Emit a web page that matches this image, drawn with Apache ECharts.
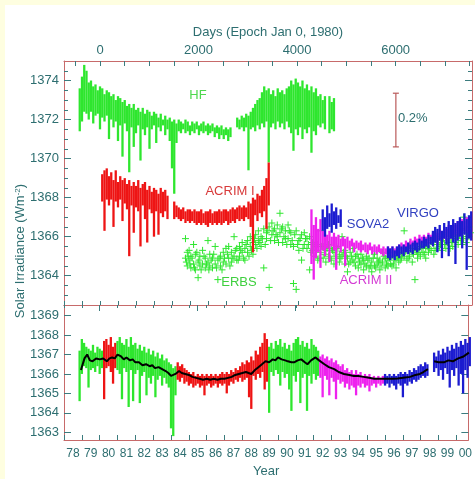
<!DOCTYPE html>
<html><head><meta charset="utf-8">
<script src="https://cdn.jsdelivr.net/npm/echarts@6/dist/echarts.min.js"></script>
<style>html,body{margin:0;padding:0;background:#fefee0;width:475px;height:479px;overflow:hidden}#c{position:absolute;left:5px;top:5px;width:470px;height:474px;background:#fff}</style>
</head><body><div id="c"></div><script>
// ---------- DATA (years, W/m^2); range pairs are [high, low] sampled every 0.125 yr ----------
const STEP = 0.125;
const hfStart = 1978.875;
const hfRange = [
[1373.6,1371.4],[1374.2,1371.9],[1374.8,1372.4],[1374.5,1372.3],[1373.9,1372.0],[1374.0,1372.4],[1373.7,1371.8],[1373.8,1372.2],[1373.5,1372.3],[1373.7,1371.5],
[1373.6,1372.1],[1373.3,1371.9],[1373.5,1372.2],[1373.4,1371.0],[1373.2,1372.0],[1373.3,1371.6],[1373.0,1371.9],[1373.2,1370.9],
[1373.1,1371.7],[1372.9,1370.1],[1373.0,1371.8],[1372.7,1371.4],[1372.8,1369.3],[1372.6,1371.6],[1372.8,1370.6],[1372.5,1371.3],
[1372.6,1371.7],[1372.4,1369.9],[1372.6,1371.5],[1372.3,1371.2],[1372.5,1371.6],[1372.4,1370.5],[1372.2,1371.5],[1372.4,1371.7],
[1372.3,1370.8],[1372.1,1371.6],[1372.3,1371.4],[1372.0,1371.7],[1372.2,1371.2],[1372.0,1371.5],[1372.1,1370.9],[1371.9,1369.5],
[1372.0,1368.2],[1371.8,1370.8],[1372.0,1371.4],[1371.9,1371.3],[1371.8,1371.5],[1372.0,1371.3],[1371.9,1371.4],[1371.7,1371.2],
[1371.9,1371.4],[1371.8,1371.3],[1371.9,1371.5],[1371.7,1371.2],[1371.8,1371.4],[1371.9,1371.3],[1371.7,1371.4],[1371.8,1371.2],
[1371.7,1371.3],[1371.8,1371.4],[1371.6,1371.1],[1371.7,1371.3],[1371.6,1371.0],[1371.7,1371.2],[1371.5,1371.0],[1371.6,1371.2],
[1371.5,1370.9],[1371.6,1371.1],null,null,[1372.1,1371.6],[1372.0,1371.5],[1372.2,1371.6],[1372.1,1371.4],
[1372.3,1371.6],[1372.2,1369.4],[1372.4,1371.5],[1372.6,1371.6],[1372.8,1371.4],[1373.0,1371.7],[1373.1,1371.5],[1373.4,1371.8],
[1373.7,1371.6],[1373.5,1371.9],[1373.6,1369.8],[1373.3,1371.6],[1373.5,1371.8],[1373.2,1371.5],[1373.6,1371.9],[1373.4,1371.6],
[1373.5,1371.8],[1373.3,1371.5],[1373.6,1371.9],[1373.7,1371.6],[1374.0,1371.3],[1373.8,1370.4],[1374.1,1371.5],[1373.9,1371.2],
[1373.7,1371.6],[1374.0,1371.0],[1373.6,1371.5],[1373.8,1371.3],[1373.5,1371.6],[1373.7,1370.3],[1373.4,1371.4],[1373.6,1371.2],
[1373.2,1371.7],[1373.3,1371.6],[1373.0,1371.8],[1373.2,1371.5],null,[1373.2,1371.3],[1372.9,1371.5],[1373.1,1371.4]
];
const acrim1Start = 1980.125;
const acrim1Range = [
[1369.2,1367.8],[1369.4,1366.3],[1369.5,1367.9],[1369.1,1367.6],[1369.3,1367.9],[1368.9,1366.5],[1369.4,1367.8],
[1368.8,1367.5],[1369.1,1367.9],[1368.9,1366.8],[1369.0,1367.7],[1368.7,1367.4],[1368.9,1365.0],[1368.6,1367.6],[1368.8,1366.2],
[1368.6,1367.5],[1368.9,1367.3],[1368.5,1365.5],[1368.7,1367.6],[1368.8,1366.9],[1368.4,1365.7],[1368.6,1367.4],[1368.3,1367.2],
[1368.5,1366.0],[1368.4,1367.3],[1368.2,1366.1],[1368.5,1367.2],[1368.3,1367.0],[1368.4,1367.3],[1368.1,1366.9],null,
null,[1367.8,1366.9],[1367.6,1367.0],[1367.5,1366.9],[1367.4,1366.8],[1367.5,1366.9],[1367.3,1366.7],[1367.4,1366.8],
[1367.4,1366.7],[1367.3,1366.8],[1367.4,1366.7],[1367.3,1366.6],[1367.3,1366.7],[1367.4,1366.6],[1367.2,1366.7],[1367.3,1366.6],
[1367.3,1366.5],[1367.4,1366.7],[1367.2,1366.6],[1367.3,1366.7],[1367.3,1366.6],[1367.4,1366.7],[1367.3,1366.6],[1367.4,1366.7],
[1367.4,1366.8],[1367.3,1366.6],[1367.4,1366.7],[1367.5,1366.8],[1367.4,1366.7],[1367.5,1366.9],[1367.6,1366.8],[1367.5,1366.9],
[1367.6,1366.8],[1367.5,1367.0],[1367.8,1366.9],[1367.7,1366.5],[1368.0,1365.2],[1367.9,1367.1],[1368.2,1366.8],[1368.1,1367.2],
[1368.4,1367.0],[1368.6,1367.3],[1369.0,1366.4],[1369.8,1367.6]
];
const acrim2Start = 1991.75;
const acrim2Range = [
[1367.4,1364.6],[1366.6,1363.8],
[1367.0,1364.9],[1366.4,1365.2],[1366.9,1364.4],[1366.3,1365.3],[1366.5,1365.0],[1366.1,1365.4],[1366.3,1364.7],[1366.0,1365.5],
[1366.2,1365.3],[1366.0,1364.3],[1366.1,1365.4],[1365.9,1365.2],[1366.0,1365.5],[1365.9,1364.5],[1366.0,1365.4],[1365.8,1365.3],
[1365.9,1365.5],[1365.7,1365.2],[1365.8,1365.4],[1365.7,1365.3],[1365.8,1365.2],[1365.6,1365.3],[1365.7,1365.2],[1365.6,1365.1],
[1365.7,1365.3],[1365.5,1365.1],[1365.6,1365.2],[1365.5,1365.1],[1365.6,1365.2],[1365.4,1365.1],[1365.5,1365.0],[1365.4,1365.1],
[1365.5,1365.0],[1365.4,1365.1],[1365.5,1365.0],[1365.4,1365.1],[1365.5,1365.1],[1365.6,1365.2],[1365.7,1365.3],[1365.6,1365.2],
[1365.8,1365.3],[1365.7,1365.4],[1365.9,1365.4],[1365.8,1365.5],[1366.0,1365.5],[1365.9,1365.6],[1366.1,1365.6],[1366.0,1365.7],
[1366.1,1365.6],[1366.0,1365.7],[1366.2,1365.6],[1366.1,1365.8],[1366.2,1365.7],[1366.3,1365.8],[1366.2,1365.6],[1366.4,1365.9],
[1366.3,1365.7],[1366.5,1365.9],[1366.4,1365.8],[1366.6,1366.0],[1366.5,1365.9],[1366.7,1366.0],[1366.6,1366.1],[1366.8,1366.0],
[1366.7,1366.2],[1366.9,1366.1],[1366.8,1366.3],[1367.0,1366.2],[1366.9,1366.3]
];
const sova2Start = 1992.375;
const sova2Range = [[1367.4,1366.3],[1367.0,1366.0],[1367.6,1366.4],[1367.2,1366.5],[1367.7,1366.2],[1367.3,1366.6],[1367.5,1366.4],[1367.1,1366.7],[1367.4,1366.5]];
const virgoStart = 1996.0;
const virgoRange = [
[1365.5,1364.9],[1365.4,1364.8],[1365.5,1364.9],[1365.3,1364.8],[1365.5,1365.0],[1365.6,1364.9],[1365.5,1365.1],[1365.6,1365.0],
[1365.5,1365.2],[1365.7,1365.1],[1365.6,1365.2],[1365.7,1365.1],[1365.8,1365.3],[1365.7,1365.2],[1365.9,1365.3],[1365.8,1365.4],
[1366.0,1365.4],[1365.9,1365.5],[1366.1,1365.4],[1366.0,1365.6],[1366.3,1365.5],[1366.5,1365.7],[1366.4,1365.2],[1366.6,1365.8],
[1366.3,1364.9],[1366.7,1365.9],[1366.5,1365.6],[1366.8,1365.0],[1366.6,1365.9],[1366.9,1365.7],[1366.7,1364.6],[1366.8,1365.8],
[1367.0,1366.0],[1366.8,1365.4],[1367.2,1366.1],[1366.9,1364.3],[1367.1,1365.9],[1367.3,1365.8]
];
const erbsPoints = [
[1984.75,1365.9],[1984.75,1364.9],[1984.85,1365.2],[1984.85,1364.5],[1984.95,1364.8],[1984.95,1365.3],[1985.05,1364.4],[1985.05,1365.0],
[1985.2,1365.6],[1985.2,1364.6],[1985.3,1364.3],[1985.3,1365.1],[1985.45,1364.7],[1985.45,1363.9],[1985.55,1365.0],[1985.55,1364.5],
[1985.7,1364.6],[1985.7,1365.3],[1985.85,1364.4],[1985.85,1364.9],[1986.0,1365.8],[1986.0,1364.7],[1986.1,1364.5],[1986.1,1365.1],
[1986.25,1364.9],[1986.25,1364.4],[1986.4,1365.5],[1986.4,1364.6],[1986.55,1364.8],[1986.55,1363.8],[1986.7,1364.5],[1986.7,1365.0],
[1986.85,1365.2],[1986.85,1364.7],[1987.0,1364.6],[1987.0,1365.4],[1987.15,1364.9],[1987.15,1365.5],[1987.3,1364.7],[1987.3,1365.2],
[1987.45,1365.0],[1987.45,1366.0],[1987.6,1364.8],[1987.6,1365.4],[1987.75,1365.5],[1987.75,1365.0],[1987.9,1365.2],[1987.9,1365.7],
[1988.05,1365.4],[1988.05,1364.8],[1988.2,1365.8],[1988.2,1365.2],[1988.35,1365.5],[1988.35,1366.0],[1988.5,1365.7],[1988.5,1365.1],
[1988.65,1366.1],[1988.65,1365.6],[1988.8,1365.8],[1988.8,1366.3],[1988.95,1366.0],[1988.95,1365.5],[1989.1,1366.4],[1989.1,1364.4],
[1989.25,1365.9],[1989.25,1366.2],[1989.4,1366.5],[1989.4,1363.4],[1989.55,1366.1],[1989.55,1366.7],[1989.7,1365.8],[1989.7,1366.4],
[1989.85,1366.6],[1989.85,1366.0],[1990.0,1366.2],[1990.0,1367.2],[1990.15,1365.7],[1990.15,1366.5],[1990.3,1366.3],[1990.3,1365.9],
[1990.45,1365.9],[1990.45,1366.6],[1990.6,1366.2],[1990.6,1365.6],[1990.75,1365.5],[1990.75,1363.6],[1990.9,1366.3],[1990.9,1363.3],
[1991.05,1365.8],[1991.05,1365.3],[1991.2,1366.1],[1991.2,1364.8],[1991.35,1365.6],[1991.35,1366.2],[1991.5,1365.4],[1991.5,1365.9],
[1991.65,1366.0],[1991.65,1364.3],[1991.8,1365.3],[1991.8,1365.7],[1991.95,1365.0],[1991.95,1365.5],[1992.1,1365.6],[1992.1,1364.8],
[1992.25,1365.2],[1992.25,1366.3],[1992.4,1364.9],[1992.4,1365.5],[1992.55,1365.3],[1992.55,1364.7],[1992.7,1365.0],[1992.7,1365.6],
[1992.85,1364.8],[1992.85,1365.4],[1993.0,1365.2],[1993.0,1364.6],[1993.15,1365.5],[1993.15,1364.9],[1993.3,1364.7],[1993.3,1365.1],
[1993.45,1365.0],[1993.45,1366.0],[1993.6,1364.6],[1993.6,1365.3],[1993.75,1364.9],[1993.75,1364.2],[1993.9,1365.2],[1993.9,1364.7],
[1994.05,1364.8],[1994.05,1365.4],[1994.2,1364.5],[1994.2,1365.0],[1994.35,1364.9],[1994.35,1364.4],[1994.5,1364.6],[1994.5,1365.1],
[1994.65,1364.3],[1994.65,1364.8],[1994.8,1365.0],[1994.8,1364.5],[1994.95,1364.4],[1994.95,1364.9],[1995.1,1364.7],[1995.1,1364.2],
[1995.25,1365.1],[1995.25,1364.5],[1995.4,1364.6],[1995.4,1364.9],[1995.55,1364.3],[1995.55,1364.8],[1995.7,1364.7],[1995.7,1365.2],
[1995.85,1364.4],[1995.85,1364.9],[1996.0,1364.8],[1996.0,1364.5],[1996.15,1365.0],[1996.15,1364.6],[1996.3,1364.6],[1996.3,1365.2],
[1996.45,1364.9],[1996.45,1364.4],[1996.6,1365.2],[1996.6,1364.7],[1996.75,1364.9],[1996.75,1365.4],[1996.9,1366.3],[1996.9,1365.0],
[1997.05,1365.3],[1997.05,1364.8],[1997.2,1365.0],[1997.2,1365.6],[1997.35,1364.7],[1997.35,1365.2],[1997.5,1363.8],[1997.5,1365.4],
[1997.65,1365.1],[1997.65,1364.9],[1997.8,1365.5],[1997.8,1365.0],[1997.95,1365.2],[1997.95,1365.7],[1998.1,1365.4],[1998.1,1364.9],
[1998.25,1365.7],[1998.25,1365.2],[1998.4,1365.3],[1998.4,1365.8],[1998.55,1365.6],[1998.55,1365.1],[1998.7,1365.9],[1998.7,1365.4],
[1998.85,1365.5],[1998.85,1366.0],[1999.0,1365.8],[1999.0,1365.3],[1999.15,1366.1],[1999.15,1365.6],[1999.3,1365.7],[1999.3,1366.2],
[1999.45,1365.4],[1999.45,1365.9],[1999.6,1366.0],[1999.6,1365.5],[1999.75,1365.7],[1999.75,1366.3],[1999.9,1366.1],[1999.9,1365.6],
[2000.05,1365.8],[2000.05,1366.4],[2000.2,1367.0],[2000.2,1365.9],[2000.35,1366.2],[2000.35,1365.7],[2000.5,1366.0],[2000.5,1366.5]
];
const erbsPointsExtra = [
[1984.8,1364.7],[1984.9,1365.0],[1985.0,1364.6],[1985.12,1364.9],[1985.25,1364.4],[1985.38,1365.2],[1985.5,1364.8],[1985.62,1364.3],
[1985.78,1365.0],[1985.92,1364.6],[1986.05,1364.3],[1986.18,1364.8],[1986.32,1365.1],[1986.48,1364.4],[1986.62,1364.9],[1986.78,1364.3],
[1986.92,1364.9],[1987.08,1365.1],[1987.22,1364.5],[1987.38,1364.9],[1987.52,1365.3],[1987.68,1364.8],[1987.82,1365.3],[1987.98,1364.9],
[1988.12,1365.6],[1988.28,1365.0],[1988.42,1365.3],[1988.58,1365.9],[1988.72,1365.4],[1988.88,1365.7],[1989.02,1365.9],[1989.18,1365.6],
[1989.32,1366.3],[1989.48,1365.8],[1989.62,1366.3],[1989.78,1366.1],[1989.92,1365.7],[1990.08,1366.4],[1990.22,1366.0],[1990.38,1365.6],
[1990.52,1366.3],[1990.68,1365.8],[1990.82,1366.1],[1990.98,1365.6],[1991.12,1365.9],[1991.28,1365.4],[1991.42,1365.9],[1991.58,1365.6],
[1991.72,1365.2],[1991.88,1365.6],[1992.02,1365.3],[1992.18,1364.9],[1992.32,1365.5],[1992.48,1365.1],[1992.62,1365.4],[1992.78,1364.9],
[1992.92,1365.3],[1993.08,1365.0],[1993.22,1365.4],[1993.38,1364.9],[1993.52,1365.2],[1993.68,1365.0],[1993.82,1364.6],[1993.98,1365.0],
[1994.12,1364.7],[1994.28,1365.1],[1994.42,1364.7],[1994.58,1364.9],[1994.72,1364.6],[1994.88,1364.8],[1995.02,1364.5],[1995.18,1364.9],
[1995.32,1364.4],[1995.48,1364.7],[1995.62,1364.5],[1995.78,1365.0],[1995.92,1364.6],[1996.08,1364.9],[1996.22,1364.5],[1996.38,1364.8],
[1996.52,1365.0],[1996.68,1364.8],[1996.82,1365.1],[1996.98,1365.3],[1997.12,1364.9],[1997.28,1365.4],[1997.42,1365.1],[1997.58,1365.3],
[1997.72,1365.2],[1997.88,1365.4],[1998.02,1365.1],[1998.18,1365.5],[1998.32,1365.4],[1998.48,1365.9],[1998.62,1365.3],[1998.78,1365.7],
[1998.92,1365.6],[1999.08,1365.9],[1999.22,1365.4],[1999.38,1366.0],[1999.52,1365.7],[1999.68,1366.2],[1999.82,1365.9],[1999.98,1366.1],
[2000.12,1365.6],[2000.28,1366.3],[2000.42,1366.0],[2000.58,1366.2]
];
// composite (bottom panel) pieces, [high, low] every 0.125 yr
const compHF1Start = 1978.875;
const compHF1 = [[1367.2,1364.6],[1367.8,1366.0],[1367.6,1366.4],[1367.4,1366.3],[1367.3,1365.3],[1367.2,1366.2],[1367.5,1366.3],[1367.1,1366.1],[1367.4,1366.4],[1367.3,1366.0],[1367.2,1366.3]];
const compAcrim1Start = 1980.25;
const compAcrim1 = [[1367.7,1364.7],[1367.8,1366.3],[1367.5,1366.4],[1367.9,1366.1],[1367.4,1365.5],[1367.6,1366.3]];
const compHF2Start = 1981.0;
const compHF2 = [
[1367.7,1366.2],[1367.9,1366.0],[1367.6,1364.7],[1367.5,1366.3],[1367.8,1366.1],[1367.4,1364.3],[1367.9,1366.2],[1367.5,1364.6],
[1367.6,1366.0],[1367.3,1366.2],[1367.5,1364.5],[1367.2,1365.9],[1367.4,1366.1],[1367.1,1364.9],[1367.3,1365.8],[1367.0,1365.5],
[1367.2,1365.9],[1366.9,1364.8],[1367.1,1365.7],[1366.8,1365.9],[1367.0,1365.4],[1366.7,1365.8],[1366.8,1365.5],[1366.6,1365.3],
[1366.5,1363.2],[1366.3,1362.8],[1366.4,1364.9]
];
const compAcrim2Start = 1984.375;
const compAcrim2 = [
[1366.6,1365.7],[1366.4,1365.6],[1366.5,1365.8],[1366.3,1365.5],[1366.2,1365.6],
[1366.1,1365.4],[1366.0,1365.5],[1366.1,1365.3],[1365.9,1365.4],[1366.0,1365.5],[1365.9,1365.3],[1366.0,1365.4],[1365.9,1364.9],
[1366.0,1365.4],[1365.9,1365.5],[1366.0,1365.3],[1365.9,1365.4],[1366.0,1365.5],[1365.9,1365.3],[1366.0,1365.5],[1366.1,1365.4],
[1366.0,1365.5],[1366.1,1365.0],[1366.0,1365.4],[1366.2,1365.6],[1366.1,1365.5],[1366.3,1365.7],[1366.2,1365.6],[1366.4,1365.8],
[1366.6,1365.6],[1366.5,1365.7],[1366.7,1365.8],[1366.6,1364.8],[1366.9,1364.2],[1366.7,1365.9],[1367.2,1365.7],[1367.0,1366.0],
[1367.4,1365.8],[1367.6,1366.1],[1368.1,1365.2],[1367.8,1365.6]
];
const compHF3Start = 1989.5;
const compHF3 = [
[1367.4,1364.0],[1367.6,1366.1],[1367.3,1365.9],[1367.7,1366.2],
[1367.5,1366.0],[1367.8,1365.4],[1367.4,1366.1],[1367.6,1365.8],[1367.3,1366.0],[1367.5,1365.2],[1367.2,1364.1],[1367.6,1365.9],
[1367.8,1365.6],[1367.9,1366.1],[1367.5,1364.5],[1367.7,1365.8],[1367.4,1366.0],[1367.6,1364.1],[1367.3,1365.9],[1367.8,1365.5],
[1367.5,1366.0],[1367.4,1365.7],[1367.2,1365.9]
];
const compAcrimIIStart = 1992.375;
const compAcrimII = [
[1366.9,1365.8],[1367.0,1364.8],[1366.8,1365.9],[1366.9,1365.7],[1366.7,1364.9],
[1366.8,1365.8],[1366.6,1365.6],[1366.7,1364.7],[1366.5,1365.7],[1366.4,1365.5],[1366.5,1365.6],[1366.2,1365.3],[1366.3,1365.5],
[1366.1,1365.2],[1366.2,1365.4],[1366.0,1365.3],[1366.2,1364.9],[1366.0,1365.4],[1366.1,1365.3],[1365.9,1365.5],[1366.0,1365.3],
[1365.9,1365.4],[1366.0,1365.1],[1365.8,1365.4],[1365.9,1365.5],[1365.8,1365.3],[1365.9,1365.5],[1365.8,1365.4],[1365.9,1365.5]
];
const compVirgoStart = 1996.0;
const compVirgo = [
[1366.0,1365.4],[1365.9,1365.5],[1366.0,1365.3],[1365.9,1365.5],[1366.0,1365.4],[1365.9,1365.2],[1366.0,1365.5],[1366.1,1365.4],
[1366.0,1364.8],[1366.1,1365.5],[1366.0,1365.4],[1366.2,1365.6],[1366.1,1365.5],[1366.3,1365.7],[1366.2,1365.6],[1366.4,1365.7],
[1366.5,1365.8],[1366.4,1365.9],[1366.6,1365.8],[1366.5,1365.9],null,null,[1367.1,1366.1],[1366.9,1366.3],
[1367.2,1365.9],[1367.0,1366.2],[1367.3,1365.7],[1367.1,1366.3],[1367.4,1366.0],[1367.2,1365.3],[1367.5,1366.2],[1367.3,1365.9],
[1367.6,1366.3],[1367.4,1365.4],[1367.7,1366.0],[1367.5,1365.0],[1367.8,1366.2],[1367.6,1365.8],[1367.9,1366.4]
];
const compositeLine = [
[1978.95,1366.2],[1979.15,1366.8],[1979.3,1367.0],[1979.45,1366.7],[1979.6,1366.65],[1979.8,1366.8],[1980.0,1366.75],[1980.2,1366.8],
[1980.4,1366.65],[1980.55,1366.8],[1980.7,1366.85],[1980.85,1366.8],[1981.0,1367.0],[1981.2,1366.9],[1981.35,1366.75],[1981.5,1366.85],
[1981.7,1366.7],[1981.85,1366.75],[1982.0,1366.6],[1982.2,1366.6],[1982.4,1366.45],[1982.6,1366.5],[1982.8,1366.4],[1982.95,1366.45],
[1983.1,1366.3],[1983.3,1366.35],[1983.5,1366.25],[1983.7,1366.15],[1983.85,1366.05],[1984.0,1365.9],[1984.1,1365.8],[1984.25,1366.0],
[1984.45,1366.15],[1984.6,1366.05],[1984.8,1366.0],[1985.0,1365.95],[1985.2,1365.85],[1985.4,1365.8],[1985.6,1365.75],[1985.8,1365.7],
[1986.0,1365.75],[1986.2,1365.7],[1986.4,1365.75],[1986.6,1365.7],[1986.8,1365.75],[1987.0,1365.75],[1987.2,1365.8],[1987.4,1365.85],
[1987.6,1365.95],[1987.8,1366.0],[1988.0,1366.05],[1988.2,1366.1],[1988.35,1366.05],[1988.5,1366.0],[1988.7,1366.2],[1988.9,1366.35],
[1989.1,1366.5],[1989.3,1366.65],[1989.5,1366.6],[1989.7,1366.75],[1989.85,1366.7],[1990.0,1366.85],[1990.2,1366.75],[1990.4,1366.7],
[1990.55,1366.65],[1990.75,1366.6],[1990.9,1366.6],[1991.1,1366.7],[1991.3,1366.75],[1991.5,1366.6],[1991.65,1366.5],[1991.85,1366.7],
[1992.1,1366.85],[1992.3,1366.7],[1992.6,1366.5],[1992.85,1366.35],[1993.15,1366.25],[1993.4,1366.1],[1993.7,1366.0],[1994.0,1365.95],
[1994.25,1365.9],[1994.5,1365.9],[1994.8,1365.85],[1995.1,1365.8],[1995.4,1365.75],[1995.7,1365.75],[1996.0,1365.75],[1996.4,1365.75],
[1996.7,1365.77],[1997.0,1365.8],[1997.4,1365.85],[1997.7,1365.95],[1997.95,1366.0],[1998.15,1366.1],[1998.4,1366.25],[1998.55,null],
[1998.75,1366.65],[1999.0,1366.6],[1999.3,1366.6],[1999.55,1366.7],[1999.8,1366.65],[2000.1,1366.8],[2000.4,1366.9],[2000.7,1367.1]
];
const scaleBar = [[1996.44, 1370.6, 1373.35]]; // 0.2% of TSI
const topMajor = [1364,1366,1368,1370,1372,1374];
const topMinor = [1363,1363.5,1364.5,1365,1365.5,1366.5,1367,1367.5,1368.5,1369,1369.5,1370.5,1371,1371.5,1372.5,1373,1373.5,1374.5];
const bottomMajor = [1363,1364,1365,1366,1367,1368,1369];
const dayLabels = [0,2000,4000,6000];
const dayTicks = [-500,0,500,1000,1500,2000,2500,3000,3500,4000,4500,5000,5500,6000,6500,7000,7500];
const yearTicks = [1978,1979,1980,1981,1982,1983,1984,1985,1986,1987,1988,1989,1990,1991,1992,1993,1994,1995,1996,1997,1998,1999,2000];
const yearLabelPos = yearTicks.map(y => y + 0.5);

// ---------- chart ----------
const X0 = 1978, X1 = 2000.67;
const DAY0 = (X0 - 1980) * 365.25, DAY1 = (X1 - 1980) * 365.25;
const FONT = 'Liberation Sans';
const TXT = '#2d6e70', LINE = '#c76a6a', TICK = '#3c7c7e';
const C_GREEN = '#2ee62e', C_RED = '#ee1414', C_MAG = '#ee22ee', C_BLUE = '#1c1cd0';
const BW = 2.3;

function rangeSeries(start, pairs, color, xi, yi, w, z) {
  const data = [];
  pairs.forEach((p, i) => { if (p) data.push([start + i * STEP, p[1], p[0]]); });
  return { type: 'custom', xAxisIndex: xi, yAxisIndex: yi, data, silent: true, animation: false, z: z || 2,
    encode: { x: 0, y: [1, 2] },
    renderItem: (params, api) => {
      const x = api.value(0);
      const a = api.coord([x, api.value(1)]), b = api.coord([x, api.value(2)]);
      return { type: 'line', shape: { x1: a[0], y1: a[1], x2: b[0], y2: b[1] }, style: { stroke: color, lineWidth: w } };
    } };
}
function crossSeries(points) {
  return { type: 'custom', xAxisIndex: 0, yAxisIndex: 0, data: points, silent: true, animation: false, z: 1,
    encode: { x: 0, y: 1 },
    renderItem: (params, api) => {
      const c = api.coord([api.value(0), api.value(1)]); const s = 3.5;
      return { type: 'group', children: [
        { type: 'line', shape: { x1: c[0] - s, y1: c[1], x2: c[0] + s, y2: c[1] }, style: { stroke: C_GREEN, lineWidth: 1 } },
        { type: 'line', shape: { x1: c[0], y1: c[1] - s, x2: c[0], y2: c[1] + s }, style: { stroke: C_GREEN, lineWidth: 1 } }] };
    } };
}
const axLine = { show: true, onZero: false, lineStyle: { color: LINE, width: 1 } };
const noLine = { show: false, onZero: false };
const lab = { color: TXT, fontSize: 13, fontFamily: FONT };
function yAx(grid, pos, min, max, ticks, len, labels, showLine) {
  return { gridIndex: grid, type: 'value', position: pos, min, max,
    axisLine: showLine ? axLine : noLine,
    axisTick: { show: true, inside: true, length: len, customValues: ticks, lineStyle: { color: TICK } },
    axisLabel: labels ? Object.assign({ customValues: ticks, margin: 5, formatter: v => String(v) }, lab) : { show: false },
    splitLine: { show: false } };
}
const chart = echarts.init(document.getElementById('c'), null, { renderer: 'canvas' });
chart.setOption({
  animation: false,
  backgroundColor: '#ffffff',
  grid: [
    { left: 59, right: 3, top: 56, height: 244 },
    { left: 59, right: 3, top: 300, height: 137 }
  ],
  xAxis: [
    { gridIndex: 0, type: 'value', position: 'bottom', min: X0, max: X1, axisLine: axLine,
      axisTick: { inside: true, length: 4, customValues: yearTicks, lineStyle: { color: TICK } }, axisLabel: { show: false }, splitLine: { show: false } },
    { gridIndex: 0, type: 'value', position: 'top', min: DAY0, max: DAY1, axisLine: axLine,
      axisTick: { inside: true, length: 5, customValues: dayTicks, lineStyle: { color: TICK } },
      axisLabel: Object.assign({ customValues: dayLabels, margin: 4, formatter: v => String(v) }, lab),
      name: 'Days (Epoch Jan 0, 1980)', nameLocation: 'middle', nameGap: 21, nameTextStyle: lab, splitLine: { show: false } },
    { gridIndex: 1, type: 'value', position: 'top', min: DAY0, max: DAY1, axisLine: axLine,
      axisTick: { inside: true, length: 6, customValues: dayLabels, lineStyle: { color: TICK } }, axisLabel: { show: false }, splitLine: { show: false } },
    { gridIndex: 1, type: 'value', position: 'bottom', min: X0, max: X1, axisLine: axLine,
      axisTick: { inside: true, length: 5, customValues: yearTicks, lineStyle: { color: TICK } },
      axisLabel: Object.assign({ customValues: yearLabelPos, margin: 8, formatter: v => String(Math.floor(v) % 100).padStart(2, '0') }, lab, { fontSize: 12 }),
      name: 'Year', nameLocation: 'middle', nameGap: 25, nameTextStyle: lab, splitLine: { show: false } },
    { gridIndex: 1, type: 'value', position: 'top', min: X0, max: X1, axisLine: noLine,
      axisTick: { inside: true, length: 3, customValues: yearTicks, lineStyle: { color: TICK } }, axisLabel: { show: false }, splitLine: { show: false } }
  ],
  yAxis: [
    yAx(0, 'left', 1362.5, 1375, topMajor, 7, true, true),
    yAx(0, 'left', 1362.5, 1375, topMinor, 4, false, false),
    yAx(0, 'right', 1362.5, 1375, topMajor, 7, false, true),
    yAx(0, 'right', 1362.5, 1375, topMinor, 4, false, false),
    yAx(1, 'left', 1362.6, 1369.55, bottomMajor, 7, true, true),
    yAx(1, 'right', 1362.6, 1369.55, bottomMajor, 7, false, true)
  ],
  series: [
    crossSeries(erbsPoints),
    crossSeries(erbsPointsExtra),
    rangeSeries(hfStart, hfRange, C_GREEN, 0, 0, BW),
    rangeSeries(acrim1Start, acrim1Range, C_RED, 0, 0, BW),
    rangeSeries(acrim2Start, acrim2Range, C_MAG, 0, 0, BW),
    rangeSeries(sova2Start, sova2Range, C_BLUE, 0, 0, BW),
    rangeSeries(virgoStart, virgoRange, C_BLUE, 0, 0, BW),
    { type: 'custom', xAxisIndex: 0, yAxisIndex: 0, data: scaleBar, silent: true, animation: false,
      encode: { x: 0, y: [1, 2] },
      renderItem: (params, api) => {
        const a = api.coord([api.value(0), api.value(1)]), b = api.coord([api.value(0), api.value(2)]);
        const st = { stroke: '#b95a5a', lineWidth: 1.2 };
        return { type: 'group', children: [
          { type: 'line', shape: { x1: a[0], y1: a[1], x2: b[0], y2: b[1] }, style: st },
          { type: 'line', shape: { x1: a[0] - 3, y1: a[1], x2: a[0] + 3, y2: a[1] }, style: st },
          { type: 'line', shape: { x1: b[0] - 3, y1: b[1], x2: b[0] + 3, y2: b[1] }, style: st }] };
      } },
    rangeSeries(compHF1Start, compHF1, C_GREEN, 3, 4, BW),
    rangeSeries(compAcrim1Start, compAcrim1, C_RED, 3, 4, BW),
    rangeSeries(compHF2Start, compHF2, C_GREEN, 3, 4, BW),
    rangeSeries(compAcrim2Start, compAcrim2, C_RED, 3, 4, BW),
    rangeSeries(compHF3Start, compHF3, C_GREEN, 3, 4, BW),
    rangeSeries(compAcrimIIStart, compAcrimII, C_MAG, 3, 4, BW),
    rangeSeries(compVirgoStart, compVirgo, C_BLUE, 3, 4, BW),
    { type: 'line', xAxisIndex: 3, yAxisIndex: 4, data: compositeLine, showSymbol: false, symbol: 'none', connectNulls: false,
      lineStyle: { color: '#000000', width: 2 }, z: 5, silent: true }
  ],
  graphic: [
    { type: 'text', x: 193, y: 90, style: { text: 'HF', fill: '#4ed84e', font: '13px "Liberation Sans"', align: 'center', verticalAlign: 'middle' } },
    { type: 'text', x: 225, y: 186, style: { text: 'ACRIM I', fill: '#d83a3a', font: '13px "Liberation Sans"', align: 'center', verticalAlign: 'middle' }, z: 10 },
    { type: 'text', x: 234, y: 277, style: { text: 'ERBS', fill: '#3fcf3f', font: '13px "Liberation Sans"', align: 'center', verticalAlign: 'middle' } },
    { type: 'text', x: 363, y: 219, style: { text: 'SOVA2', fill: '#2f3fc0', font: '13px "Liberation Sans"', align: 'center', verticalAlign: 'middle' } },
    { type: 'text', x: 413, y: 208, style: { text: 'VIRGO', fill: '#2f3fc0', font: '13px "Liberation Sans"', align: 'center', verticalAlign: 'middle' } },
    { type: 'text', x: 361, y: 275, style: { text: 'ACRIM II', fill: '#d43cd4', font: '13px "Liberation Sans"', align: 'center', verticalAlign: 'middle' } },
    { type: 'text', x: 393, y: 113, style: { text: '0.2%', fill: TXT, font: '13px "Liberation Sans"', align: 'left', verticalAlign: 'middle' } },
    { type: 'text', x: 15, y: 246, rotation: Math.PI / 2,
      style: { text: 'Solar Irradiance (Wm{s|-2})', fill: TXT, font: '13px "Liberation Sans"', align: 'center', verticalAlign: 'middle',
        rich: { s: { fontSize: 8, fontFamily: FONT, fill: TXT, verticalAlign: 'top', padding: [0, 0, 5, 0] } } } }
  ]
});
</script></body></html>
